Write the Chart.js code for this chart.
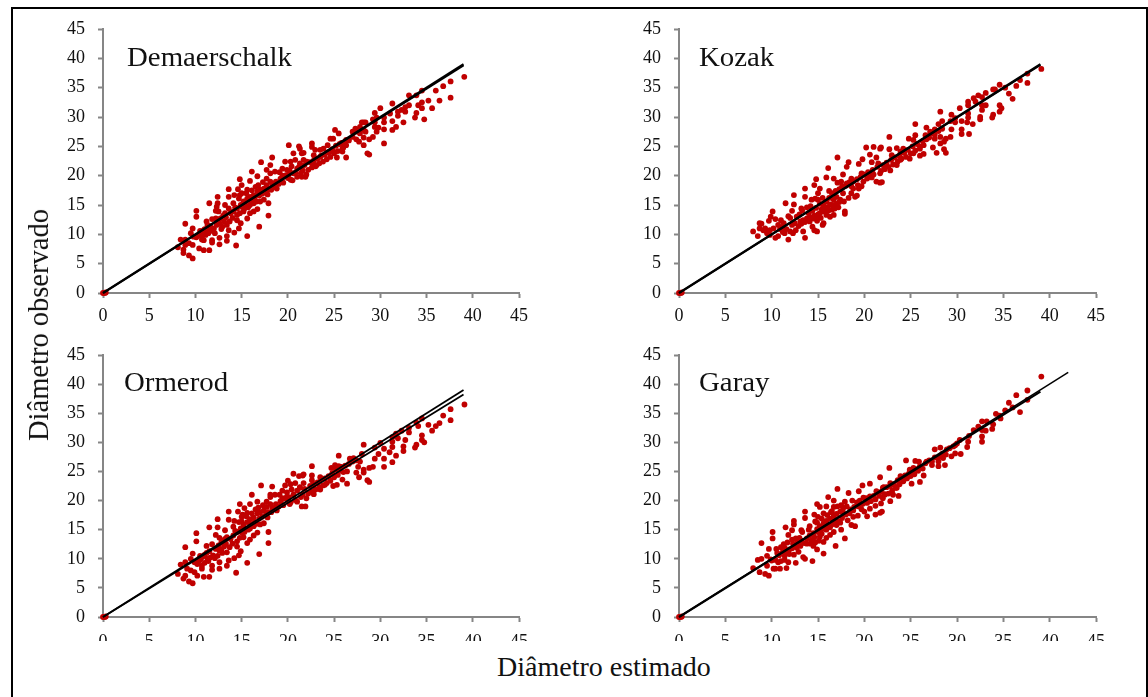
<!DOCTYPE html>
<html>
<head>
<meta charset="utf-8">
<script src="https://cdn.jsdelivr.net/npm/chart.js@4"></script>
<style>
html, body { margin: 0; padding: 0; background: #fff; overflow: hidden; }
body { width: 1148px; height: 697px; position: relative; font-family: "Liberation Serif", serif; color: #111; }
#frame { position: absolute; left: 11px; top: 7px; width: 1133px; height: 700px; border: 2px solid #000; }
canvas { position: absolute; }
.name { position: absolute; font-size: 28px; line-height: 28px; white-space: nowrap; transform-origin: left top; transform: scaleX(1.03); }
#xTitle { position: absolute; left: 497px; top: 651px; font-size: 28px; line-height: 32px; white-space: nowrap; }
#yTitle { position: absolute; left: 39px; top: 325px; font-size: 28.5px; line-height: 32px; white-space: nowrap; transform: translate(-50%, -50%) rotate(-90deg); }
</style>
</head>
<body>
<div id="frame"></div>
<canvas id="c0"></canvas>
<canvas id="c1"></canvas>
<canvas id="c2"></canvas>
<canvas id="c3"></canvas>
<div class="name" style="left:127px;top:43px">Demaerschalk</div>
<div class="name" style="left:699px;top:43px">Kozak</div>
<div class="name" style="left:124px;top:368px">Ormerod</div>
<div class="name" style="left:699px;top:368px">Garay</div>
<div id="xTitle">Diâmetro estimado</div>
<div id="yTitle">Diâmetro observado</div>
<script>
const tickValues = [0, 5, 10, 15, 20, 25, 30, 35, 40, 45]

const demaerschalkPoints = [[0,0],[0.2,0],[0.3,0.1],
[8.1,7.8],[8.4,9.1],[8.9,11.8],[8.9,9.1],[8.7,6.8],[8.7,7.4],[8.9,8.2],[9.3,6.4],[9.7,5.9],[9.3,8.5],[9.7,8.2],[10.4,7.6],[10.9,7.3],[11.5,7.3],
[9.5,10.2],[9.7,11],[10.1,14],[10.1,13],[10.5,10.6],[10.1,9.5],[10.7,9.1],[11.2,12.2],[11.5,15.3],[12.4,16.4],[12.4,15.3],[12.2,14],[11.8,12.6],[11.8,9],[11.8,8.6],[12.6,9.4],[12.6,8.3],
[13.6,17.7],[13.6,16.4],[13.2,15],[13.6,14.4],[13,13.2],[13.4,11.6],[13.6,10.7],[13.4,9.7],[13.4,8.9],[14.4,8.1],[14.2,10.3],[14.8,19.4],[14.6,17.7],[15,18.4],[14.2,16.7],[14.8,16.7],[15.6,9.7],
[16.1,20.7],[15.9,19.1],[16.7,19.9],[17.1,22.3],[18.1,21.8],[17.7,21],[18.3,23.1],[16.9,11.3],[17.9,13.2],[17.9,15.3],
[10.9,10.7],[11.3,11],[11.6,11.4],[12,11],[12.3,11.6],[12.2,12.7],[12.5,12.2],[12.7,12.7],[13.1,12.2],[12.5,13.9],[12.3,14.7],[12.9,11.3],[11.4,10.2],[11.1,9.9],[10.7,9.6],[10.4,9.9],[9.8,9.6],[10.9,9],[11.3,11.6],[11.7,10.7],
[13.8,13.6],[14.1,13.9],[14.5,14.4],[14.9,15],[15.2,15.6],[15.6,16.1],[15.9,16.4],[16.3,16.7],[16.7,17.3],[17,17.6],[17.4,17.8],[17.7,18.4],[18.1,19],[18.5,18.1],[18.8,17.8],[19.2,19.5],[19.5,19.8],[19.9,21],[20.3,19.3],[20.6,20.4],[21,21.2],[21.3,22.1],[21.7,22.7],
[14.5,12.4],[14.9,11.9],[14.7,11],[15.6,12.7],[15.9,13.6],[16.3,13.9],[16.7,14.3],[15.2,13.9],[14.5,13.3],[15,14.7],[15.4,15],[14.1,15.3],[14.7,16.1],[15,17],[15.6,17.6],[16.5,18.1],[17.4,15.9],[17,15.6],[16.3,15.3],[15.9,15],
[17.7,19.5],[18.1,20.4],[18.6,20.7],[19.4,21.2],[19.7,22.4],[20.3,22.4],[20.6,23.8],[21.7,23.9],[20.8,22.7],[20.1,25.2],[21.2,25],
[19.5,18.8],[20,19.6],[20.2,20.8],[20.5,19.2],[20.8,20.5],[21,19.8],[21.2,21.5],[21.4,20.4],[21.6,20.9],[21.8,21.8],[22,20.2],[22.2,21],[22.4,22.3],[22.6,21.4],[22.8,22.6],[23,21.6],[23.2,22.9],[23.4,22.1],[23.6,23.4],[23.8,22.4],[24,23.6],[24.2,22.8],[24.4,24],[24.6,23.2],[24.8,24.5],[25,23.8],[25.2,25.1],[25.4,24.2],[25.6,25.4],[25.8,25.6],[26,24.8],[26.2,25.8],[26.6,26],[27,26.6],
[11,10.9],[11.5,10.5],[12.1,10.2],[12.8,10.9],[13.3,12.9],[13.7,12.2],[14,12.8],[14.3,14.6],[14.8,13.6],[15.3,14.4],[15.7,14.6],[16,15.6],[16.4,16],[16.6,15.6],[16.9,16.6],[17.2,16.9],[17.6,17.1],[17.9,17.7],[18.3,18.5],[18.7,19],[19,18.6],[19.4,20],[19.8,20.1],[20.1,20.2],[10.6,10.2],[12.6,11.8],[13.2,13.6],[15.5,17],[16.1,17.5],[16.8,18.4],[17.3,18.9],[17.8,16.8],[18.2,17.6],[19.1,20.6],[20.4,21.6]
,[39.08,36.85],[37.6,36.06],[36.8,35.26],[36,34.5],[37.6,33.3],[36.4,32.8],[35.6,31.5],[35.2,32.8],[34.5,34.5],[34.5,32.5],[34.5,31.5],[34.1,32],[33.9,33.7],[33.9,30.7],[33.75,29.9],[34.75,29.6],[33.1,33.7],[33.1,32],[32.5,29.1],[32.7,31.7],[32.7,30.9],[32.3,31.2],[31.3,32.3],[31.9,30.2],[31.9,30.9],[31.7,28.3],[31.3,27.8],[31.3,29.3],[31.05,30.6],[30.4,29.9],[30.4,27.9],[30.4,29.1],[30,31.5],[29.4,30.7],[29.2,29.6],[29.6,29.9],[30.4,25.5],[29.4,29.1],[29.4,28.3],[29.6,27.5],[29.8,28.2],[29.2,26.6],[28.8,26.2],[28.6,23.8],[28.8,23.6],[28.2,29.1],[28.4,29.1],[28,29.1],[27.8,28.3],[27.3,28],[28.2,27.8],[28.4,27.5],[27.45,27.5],[27.8,27.2],[27,27.5],[27.4,26.2],[27.7,25.8],[28.2,25.2],[28.2,26.5],[26.3,23.1],[26.3,25.2],[26.3,26.1],[25.5,27.2],[25.1,27.8],[25.9,24.6],[25.9,24.1],[25.3,23.1],[24.9,24.1],[24.6,26.3],[24.9,26.3],[24.3,25.2],[22.6,25.5],[22.6,24.9],[23.85,24.6],[23.5,24.4],[22.95,24.4],[22.8,23.5],[23.5,23.2],[23.1,21.8],[22.8,21.8],[22.05,22.4],[21.5,23.8],[21.9,19.8],[21.5,19.8],[21.3,24.6]]

const kozakPoints = [[0,0],[0.2,0],[0.3,0.1],
[8,10.5],[8.5,9.7],[8.7,11.9],[8.9,11.8],[8.7,11],[9.1,10.7],[9.3,11],[9.7,12.3],[10.1,13.9],[9.9,13],[10.4,12.6],[9.5,10.2],[9.8,10.7],[9.8,9.9],[10.4,9.4],[10.7,9.7],[10.7,11.6],[11.1,11.2],[11.3,11.9],
[11.5,15.3],[11.8,13.1],[11.8,9.1],[11.4,10.2],[12,10.5],[12.3,10.2],[12.6,10.7],[12.2,11.6],[12.5,11.9],[12.2,14],[12.4,16.7],[12.4,15.1],[12.7,13],[13.2,14.4],[13.3,14.1],[13.4,10.5],[13.6,9.4],[13.6,16.4],[13.6,17.8],
[13.1,12.2],[13.4,12.4],[13.8,12.7],[14.1,12.2],[14.5,12.7],[14.9,12.3],[14,13.6],[14.4,11.3],[14.9,10.5],[14.6,10.7],[14.3,15.9],[14.7,16.1],[14.8,19.4],[14.6,18.4],[15.2,17.8],[15,17],[15.9,19.7],[16.1,21.3],[15.5,11.6],[15.6,11.9],
[15.2,13.6],[15.6,13.9],[15.9,13.3],[16.3,13],[16.7,13.3],[16.8,14.4],[17.2,14.6],[15.6,15],[15.9,15.6],[16.5,17],[16.7,15.9],[17,16.4],[17.4,15.9],[17.7,17],
[14.4,14],[14.8,14.5],[15.2,15.2],[15.4,14.3],[14.6,13.2],[15,13.4],[16,14.6],[16.3,15.1],[16.6,15],[16.2,16.2],[16.9,17.4],[17.3,17.7],[17.6,18.2],[18,18.3],[18.4,18.9],[18.8,19],[19.2,19.4],[19.6,19.8],[20,20.2],[20.4,20.6],[20.9,21],[21.4,21.5],
[16.7,19.5],[17.1,18.8],[17.1,23.1],[17.7,20.2],[18.1,21.5],[18.3,22.3],[18.1,18.7],[18.6,19.5],[17.9,13.9],[17.9,13.5],[18.6,17],[19,16.4],[19.4,17.8],[19.2,16.6],[19.4,22],[19.8,22.8],[20.6,23.6],[19.7,20.4],[20.3,19.5],[20.6,20.4],[21.3,19],[21.7,18.8],[21.5,22.1],[22,21.8],[20.8,22.3],[21.3,23.1],[20.2,24.8],[21,24.9],[21.8,24.8],
[21,20.2],[21.8,20.8],[22.2,21.1],[22.4,22.2],[22.6,21.5],[22.9,22.7],[23.1,21.9],[23.3,23.1],[23.6,22.4],[23.8,23.4],[24,22.9],[24.3,23.9],[24.5,23.2],[24.7,24.4],[25,23.8],[25.2,25],[25.5,24.3],[25.7,25.4],[26,25],[26.3,25.9],[26.7,26.2],[27,26.5],[27.3,27.2],[27.6,27],[28,27.6],[28.4,28],
[10.9,10.9],[11.2,10.4],[11.6,10.9],[12.9,11.4],[13.2,11.8],[13.6,12.1],[14.2,12.9],[14.8,13.1],[15.3,12.8],[15.7,14.6],[16.1,14],[16.5,14.2],[17,15.2],[17.3,15.5],[17.8,15.6],[18.3,16.2],[18.8,17.8],[19.3,18.4],[19.9,19],[20.5,19.8],[11,12.4],[10.2,11],[12,12.8],[13,13.4],[13.8,14.6],[14.2,14.8],[15,15.9],[15.5,16.2],[16.2,17.4],[17.5,19],[18.6,18.2],[19.7,18.2],[20.8,19.7]
,[39.1,38.2],[37.6,37.4],[37.6,35.8],[36.8,36.3],[36.4,35.3],[36,33.1],[35.6,34],[35.2,35],[34.6,35.5],[34.1,34.7],[33.9,34.7],[33.1,34.1],[34.6,32],[34.8,31.5],[34.6,30.9],[33.9,30.4],[33.8,29.9],[33.1,32],[32.7,32],[32.7,31.2],[32.3,33.7],[32.7,33.4],[31.8,33.2],[32,32.6],[31.2,32.6],[31.2,32],[32.5,30],[32.5,29.6],[31.7,28.8],[31.2,30.6],[31.2,29.9],[30.3,31.5],[29.4,30.4],[29.8,29.8],[30.5,29.3],[31.1,29.1],[29.8,29.1],[29.3,29.3],[30.5,27.9],[30.5,27.1],[31.3,27.1],[29.4,27.9],[28.2,30.9],[28.4,29.3],[28,28.8],[27.6,27.9],[26.7,28.2],[25.5,28.8],[28.2,26.6],[29.3,26.6],[28.8,26.3],[28.6,25.8],[28.2,25.5],[27.6,26.3],[28.6,24.5],[28.8,23.9],[27.8,23.9],[27.4,24.8],[26.4,23.7],[26,23.4],[26.4,25.2],[26,24.6],[25.3,23.8],[24.9,22.9],[25.5,26.9],[22.7,26.6],[24.8,26.3],[25.3,26.1],[26.6,26.9],[27.1,27.5],[22.7,24.5],[23.5,24.7],[24.2,24.6],[23.9,24.1],[22.96,23.5],[23.9,22.7],[23.5,21.8],[22.8,20.9],[22.2,21.8],[21.9,18.9],[21.7,24.6],[21.7,20.4]]

const ormerodPoints = [[0,0],[0.2,0],[0.3,0.1],
[8.1,7.4],[8.4,9],[8.9,12],[8.9,9.4],[8.7,6.6],[8.9,7.1],[9.3,6.1],[9.7,5.8],[9.1,8.3],[9.5,8],[9.9,7.7],[10.2,7.1],[10.9,6.9],[11.5,6.9],[9.5,10],[9.7,10.9],[10.1,14.4],[10.1,13],[10.5,10.5],[10.2,9.1],[10.7,8.8],[10.7,8.3],[11.2,12.2],[11.3,10],
[11.5,15.4],[12.4,16.8],[12.4,15.4],[12.2,14.1],[11.8,12.5],[11.8,8.8],[11.8,8.1],[12.6,9.4],[12.6,8.3],[13.6,18.1],[13.6,16.7],[13.2,14.9],[13.4,13.7],[13,13.1],[13.4,11.1],[13.6,9.7],[13.4,8.8],[14.4,7.6],[14.2,10.1],[14.8,19.4],[14.6,18.1],[15.1,17.6],[14.2,16.5],[15.6,9.3],[16.1,21],[15.9,19.4],[17.1,22.6],[18.3,22.4],[18.1,21],[16.9,10.8],[17.9,12.7],[17.9,14.6],[16.7,19.8],
[10.8,10.4],[11.2,11],[11.5,11.3],[11.9,10.6],[12.2,11.7],[12.5,12.3],[12.8,12.8],[12.4,10.5],[13.1,12.1],[12.6,13.6],[12.9,11],[11.4,9.6],[11,9.3],[10.4,9.6],[9.9,9.4],
[13.8,13.4],[14.1,14],[14.5,14.6],[14.9,15.2],[15.2,15.9],[15.6,16.3],[15.9,16.8],[16.3,17.1],[16.7,17.8],[17,18],[17.4,18.3],[17.7,18.9],[18.1,19.4],[18.5,18.6],[18.8,18.3],[19.2,19.9],[19.5,20.3],[19.9,21.4],[20.3,19.7],[20.6,21],[21,21.7],[21.3,22.3],[21.7,23],
[14.5,12.1],[14.9,11.3],[14.7,10.6],[15.6,12.7],[15.9,13.3],[16.3,14],[16.7,14.5],[15.2,13.7],[14.5,13],[15,14.5],[15.4,15.2],[14.1,15.5],[14.7,16.3],[15,17.2],[15.6,17.9],[16.5,18.5],[17.4,16.1],[17,15.9],[16.3,15.6],[15.9,15.2],[15,16.4],[15.3,18.7],[17.7,19.8],[18.1,20.6],[18.6,21],[19.4,21.7],[19.7,22.6],[20.3,22.8],[20.6,24.6],[21.7,24.5],[20.8,23],[20,23.4],[21.2,24.2],
[19.5,19.2],[20,20],[20.2,19.4],[20.8,20.1],[21,19.8],[21.4,20.6],[21.6,21],[21.8,22],[22,20.4],[22.2,21.2],[22.4,22.5],[22.6,21.6],[22.8,22.8],[23,21.9],[23.2,23.1],[23.4,22.3],[23.6,23.6],[23.8,22.6],[24,23.8],[24.2,23],[24.4,24.2],[24.6,23.4],[24.8,24.7],[25,24],[25.2,25.3],[25.4,24.4],[25.6,25.1],[25.8,25.8],[26,24.9],[26.2,26],[26.6,26.3],[27,26.7],[27.4,26.9],
[11,10.7],[11.6,10.2],[12.1,10.1],[12.8,11.6],[13.3,12.6],[13.7,12],[14,12.6],[14.3,14.8],[14.8,13.6],[15.3,14.6],[15.7,15],[16,15.9],[16.4,16.3],[16.6,16],[16.9,16.9],[17.2,17.2],[17.6,17.5],[17.9,18],[18.3,18.8],[18.7,19.4],[19,19],[19.4,20.4],[19.8,20.5],[20.1,20.6],[10.6,10],[12.6,11.4],[13.2,13.4],[15.5,17.3],[16.1,17.8],[16.8,18.8],[17.3,19.2],[17.8,17.1],[18.2,18],[19.1,21],[20.4,21.9]
,[39.1,36.5],[37.6,35.7],[36.8,34.6],[37.6,33.8],[36.4,33.3],[36,32.8],[35.6,32],[35.2,33],[34.5,34.1],[34.5,31.2],[34.5,30.4],[34.75,30],[34.1,32.8],[33.9,33.4],[33.9,29.6],[33.75,29.1],[33.1,32.5],[33.1,31.7],[32.7,30.4],[32.5,29.3],[32.5,28.5],[32.3,32],[31.7,31.5],[31.9,30.7],[31.3,30.9],[31.3,30.1],[31.3,29.2],[31,28.3],[31.7,27.7],[31.3,26.6],[30.4,28.9],[30.4,27.2],[30.4,25.8],[30,29.9],[29.8,28],[29.4,29.1],[29.4,27.2],[29.2,25.8],[28.8,25.6],[28.2,29.6],[28,28],[27.6,25.8],[28.2,25.3],[28.2,24.8],[27.4,24.8],[27.7,24],[28.6,23.5],[28.8,23.2],[25.5,27.7],[26.7,27.2],[27.1,27.3],[27.8,26.7],[22.6,25.9],[21.6,24.3],[22.6,24.3],[22.6,23.5],[25.1,26.1],[25.5,25.9],[24.7,25.6],[26.4,25],[25.9,23.6],[26.4,22.9],[25.3,22.7],[24.9,22.5],[24,22.7],[23.5,24],[22.8,21.1],[23.5,21.9],[21.3,22.2],[21.5,19],[21.9,19]]

const garayPoints = [[0,0],[0.2,0],[0.3,0.1],
[8,8.4],[8.7,7.7],[8.5,9.8],[8.9,10],[8.9,12.7],[9.3,7.4],[9.7,7.1],[9.5,8.8],[9.7,11.7],[9.5,10.5],[10.1,14.6],[10.1,13.5],[10.2,8.3],[10.4,8.3],[10.9,8.3],[11.6,8.4],[10.7,9.4],[10,9.7],[10.5,11.7],[11.3,12.5],[11.5,15.4],[11.8,14.1],[12.2,14.9],[12.4,16.5],[12.4,15.9],[11.8,9.4],[12.6,9.3],[11.4,10.5],[13.2,14.9],[13.3,14.6],[13.6,18.1],[13.6,17],[13.4,10.3],[13.6,10],[14.4,9.6],[15.6,10.9],[14.9,19.4],[15.2,18.9],[14.6,17.6],[15.9,19],[16.1,20.6],[16.7,20],[16.7,18.9],[17.1,22],[16.9,12.2],[17.9,13.5],[17.9,19.8],[18.3,21.3],[17.7,17.9],[18.6,15.8],[19,15.6],[19.4,21.6],[19.8,22.6],[20.6,22.9],[21.3,21.6],[22,22.2],[21.7,17.9],[21.2,17.6],[20.3,17.3],[19.7,18.5],
[10.8,10.6],[11.2,11.2],[11.5,11],[11.9,10.8],[12.2,11.8],[12.5,12.4],[12.8,12.9],[12.4,10.7],[13.1,12.2],[12.6,13.5],[12.9,11.2],[11.4,9.8],[11,9.6],[10.4,9.8],[9.9,9.9],[11.7,12.8],[12.2,13.3],
[13.8,13.5],[14.1,14],[14.5,14.4],[14.9,15.1],[15.2,15.6],[15.6,16.1],[15.9,16.5],[16.3,16.9],[16.7,17.4],[17,17.7],[17.4,18.1],[17.7,18.6],[18.1,19],[18.5,18.5],[18.8,18.3],[19.2,19.7],[19.5,20],[19.9,20.5],[20.3,19.6],[20.6,20.7],[21,20.8],
[14.5,12.2],[14.9,11.6],[14.7,12.8],[15.6,12.9],[15.9,13.6],[16.3,14.1],[16.7,14.6],[15.2,13.8],[14.3,13.1],[15,14.6],[15.4,15.1],[14.1,15.6],[14.7,16.4],[15,17.2],[15.6,17.8],[16.5,18.2],[17.4,16.2],[17,15.8],[16.3,15.4],[15.9,15],[17.5,15],[18.2,16.6],[18.8,17.2],[19.3,17.4],[20,18.1],[20.6,18.6],[21.2,19.1],[21.8,19.5],
[21.4,21.4],[21.6,20.8],[21.8,21.5],[22,20.4],[22.2,21.1],[22.4,22.3],[22.6,21.2],[22.8,22.5],[23,21.7],[23.2,22.8],[23.4,22.2],[23.6,23.5],[23.8,22.8],[24,23.9],[24.2,23.4],[24.4,24.3],[24.6,23.8],[24.8,24.6],[25,24.2],[25.2,25],[25.4,24.5],[25.6,25.4],[25.8,25.1],[26,25.9],[26.3,25.5],[26.6,26.4],[27,26.9],[27.3,26.7],[27.6,27.4],[28,27.4],[28.4,28],[28.8,27.9],[29.2,29],[29.6,29.3],[30,29.8],
[10.6,11],[11,12],[11.4,11.9],[11.9,11.6],[12.3,12.6],[12.7,11.9],[13,13.6],[13.5,12.7],[13.8,12.6],[14.2,12.6],[14.6,13.7],[15.1,13.1],[15.4,14.3],[15.8,15.3],[16.1,15.7],[16.5,15.9],[16.8,16.6],[17.2,16.4],[17.6,17],[18,17.6],[18.4,17.8],[18.9,18.9],[19.4,19],[19.8,19.4],[20.2,20.4],[20.7,19.9],[21.2,20.2],[13.2,13.1],[14,15],[14.9,16.2],[15.4,16.9],[16,17.5],[16.4,18],[17.1,19],[17.5,19.2],[18.7,20]
,[39.1,41.3],[37.6,38.9],[36.4,38.1],[37.6,37.3],[36.8,35.2],[35.6,36.8],[36,36],[35.2,35.5],[34.2,34.9],[34.6,34.6],[34.7,34.1],[33.9,33.1],[33.8,32.3],[33.1,32],[33.2,33.6],[32.7,33.6],[32.3,32.7],[32.7,32.1],[32.7,31],[32.7,30.1],[31.8,32.1],[31.3,31.1],[31.2,30.1],[31.1,29.2],[30.3,30.4],[30.4,28],[29.8,29.5],[29.8,28.1],[29.4,27.6],[28.9,28.8],[28.2,29.1],[27.6,28.8],[28.5,27.3],[28.7,26.1],[28,26.7],[28,25.9],[27.3,26.1],[26.7,26.7],[25.5,26.8],[25.9,26.7],[24.5,26.9],[22.7,25.6],[26.4,24.3],[26,23.2],[25.1,22.9],[24.9,25.3],[25.3,25.6],[23.9,24.2],[24.2,23.3],[23.5,22.2],[22.8,23],[22.1,22.3],[23.7,20.8],[22.8,19.9],[21.7,24],[21.9,18.1],[22.2,21],[23.1,21]]

// end points of the two lines in each panel: 1:1 line and fitted line
const demaerschalkLines = [[[0,0],[39,39]], [[0,0],[39,38.8]]]
const kozakLines = [[[0,0],[39,39]], [[0,0],[39,38.9]]]
const ormerodLines = [[[0,0],[39,39]], [[0,0],[39,38.2]]]
const garayLines = [[[0,0],[42,42]], [[0,0],[39,38.7]]]

const axisColor = '#868686'
const dotColor = '#C00000'

const toXY = (p) => ({ x: p[0], y: p[1] })

function axis(size, extra) {
    return Object.assign({
        type: 'linear',
        min: 0,
        max: 45,
        afterBuildTicks: (scale) => { scale.ticks = tickValues.map((value) => ({ value })) },
        afterFit: (scale) => {
            if (scale.isHorizontal()) scale.height = size; else scale.width = size
            scale.paddingTop = 0
            scale.paddingBottom = 0
            scale.paddingLeft = 0
            scale.paddingRight = 0
        },
        border: { color: axisColor, width: 2 },
        grid: { drawOnChartArea: false, color: axisColor, tickColor: axisColor, tickLength: 5, tickWidth: 2 }
    }, extra)
}

function panel(id, points, lines, box) {
    const canvas = document.getElementById(id)
    canvas.style.left = (box.left - 60) + 'px'
    canvas.style.top = (box.top - 14) + 'px'
    canvas.width = 500
    canvas.height = box.canvasHeight

    const lineSets = lines.map((l, i) => ({
        data: l.map(toXY),
        showLine: true,
        borderColor: '#000',
        borderWidth: box.lineWidths[i],
        pointRadius: 0,
        clip: false
    }))

    new Chart(canvas, {
        type: 'scatter',
        data: {
            datasets: lineSets.concat([{
                data: points.map(toXY),
                backgroundColor: dotColor,
                borderColor: dotColor,
                borderWidth: 0,
                pointRadius: 2.9,
                clip: false
            }])
        },
        options: {
            responsive: false,
            animation: false,
            layout: { padding: { top: 14, right: 500 - 60 - box.width } },
            plugins: { legend: { display: false }, tooltip: { enabled: false } },
            scales: {
                x: axis(box.canvasHeight - 14 - box.height, {
                    ticks: { color: '#111', padding: box.labelGap, maxRotation: 0, autoSkip: false, font: { family: 'Liberation Serif', size: 18 } }
                }),
                y: axis(60, {
                    ticks: { color: '#111', padding: 13, autoSkip: false, font: { family: 'Liberation Serif', size: 18 } }
                })
            }
        }
    })
}

panel('c0', demaerschalkPoints, demaerschalkLines, { left: 103, top: 29, width: 416, height: 264, canvasHeight: 312, labelGap: 7, lineWidths: [2.2, 2] })
panel('c1', kozakPoints, kozakLines, { left: 679, top: 29, width: 417, height: 264, canvasHeight: 312, labelGap: 7, lineWidths: [2.2, 2] })
panel('c2', ormerodPoints, ormerodLines, { left: 103, top: 355, width: 416, height: 262, canvasHeight: 300, labelGap: 9, lineWidths: [1.8, 1.8] })
panel('c3', garayPoints, garayLines, { left: 679, top: 355, width: 417, height: 262, canvasHeight: 300, labelGap: 9, lineWidths: [1.5, 2.2] })
</script>
</body>
</html>
